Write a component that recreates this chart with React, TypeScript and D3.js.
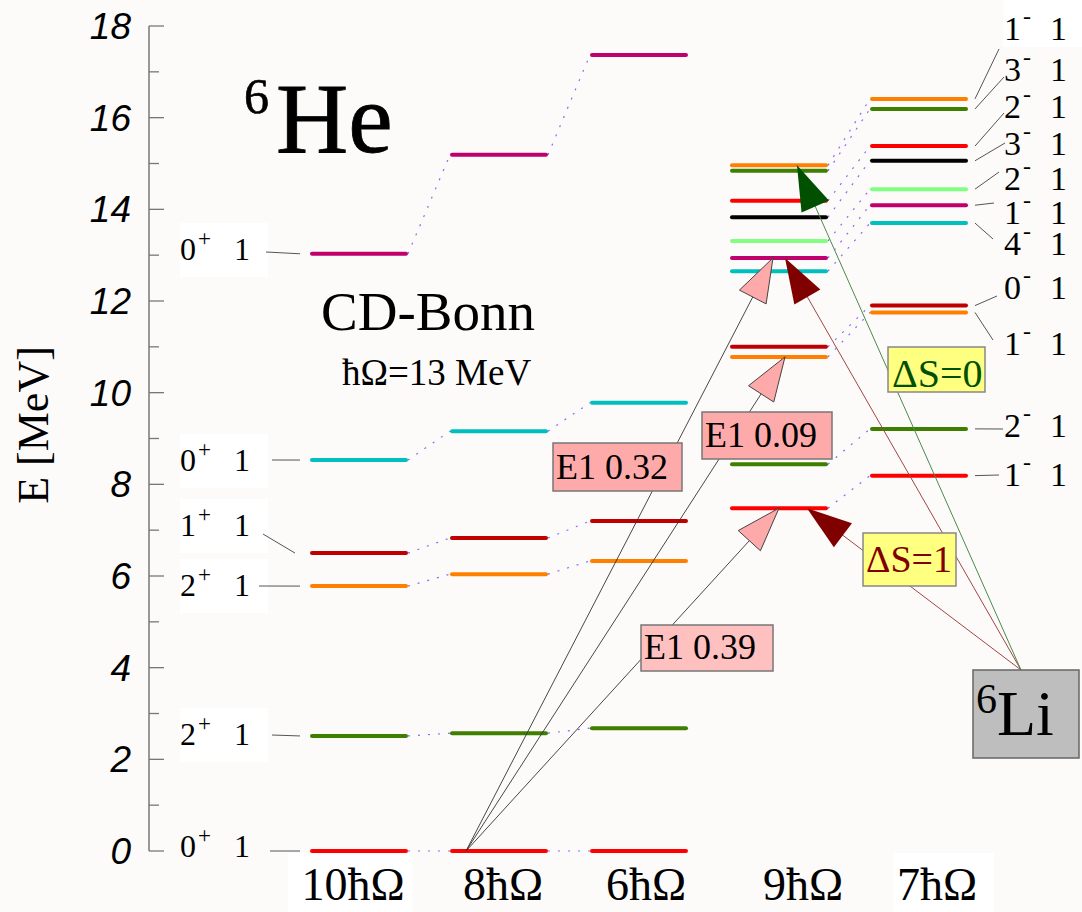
import React from 'react';
import * as d3 from 'd3';

// column order along the x axis
const columns = ['10ħΩ', '8ħΩ', '6ħΩ', '9ħΩ', '7ħΩ'];

// positive parity states (10, 8, 6 hbar-omega), lowest first
const posJ = [0, 2, 2, 1, 0, 0];
const posColours = ['#ff0000', '#3f7f00', '#ff8000', '#c00000', '#00bfbf', '#c0006c'];
const e10 = [0, 2.51, 5.78, 6.5, 8.53, 13.03];
const e8 = [0, 2.57, 6.04, 6.83, 9.16, 15.19];
const e6 = [0, 2.68, 6.33, 7.2, 9.78, 17.37];

// negative parity states (9, 7 hbar-omega), lowest first
const negJ = [1, 2, 1, 0, 4, 1, 2, 3, 2, 3, 1];
const negColours = ['#ff0000', '#3f7f00', '#ff8000', '#c00000', '#00bfbf', '#c0006c', '#80ff80', '#000000', '#ff0000', '#3f7f00', '#ff8000'];
const e9 = [7.48, 8.44, 10.78, 11.0, 12.65, 12.94, 13.31, 13.83, 14.19, 14.84, 14.96];
const e7 = [8.19, 9.21, 11.75, 11.9, 13.7, 14.09, 14.44, 15.06, 15.38, 16.19, 16.41];

// E1 transitions from the 8hw ground state into 9hw
const e1Target = [12.94, 10.78, 7.48];
const e1Strength = ['0.32', '0.09', '0.39'];

// spin transitions out of 6Li into 9hw
const spinTarget = [7.48, 12.94, 14.96];

const yTicks = d3.range(0, 19);

const serif = '"Liberation Serif", "DejaVu Serif", serif';
const sans = '"Liberation Sans", Arial, sans-serif';

// triangle with its tip on (x1,y1), pointing away from (x0,y0)
function headPath(x0: number, y0: number, x1: number, y1: number, len = 45, hw = 15) {
  const dx = x1 - x0, dy = y1 - y0;
  const d = Math.sqrt(dx * dx + dy * dy);
  const ux = dx / d, uy = dy / d;
  const bx = x1 - ux * len, by = y1 - uy * len;
  const p = d3.path();
  p.moveTo(x1, y1);
  p.lineTo(bx - uy * hw, by + ux * hw);
  p.lineTo(bx + uy * hw, by - ux * hw);
  p.closePath();
  return p.toString();
}

export default function App() {
  const W = 1082, H = 912;
  const y = d3.scaleLinear().domain([0, 18]).range([851, 26]);
  const x = d3.scaleBand().domain(columns).range([310, 968]).paddingInner(0.3);
  const bw = x.bandwidth();
  const colL = (c: string) => x(c) as number;

  const posCols = [e10, e8, e6];
  const negCols = [e9, e7];

  // label layout (pixels)
  const leftLabelY = [846, 734, 585, 525, 460, 249];
  const leftLeaderX = [270, 272, 259, 263, 272, 266];
  const leftLeaderY = [851, 735, 586, 534, 460, 252];
  const rightLabelY = [474, 425, 343, 287, 243, 212, 178, 143, 106, 69, 28];
  const rightLeaderEnd: [number, number][] = [[999, 475], [1003, 429], [993, 340], [997, 296], [993, 239], [994, 203], [999, 172], [1005, 143], [1004, 113], [1004, 77], [999, 49]];
  const colLabelDx = [-6, 4, 7, 24, 18];

  const e1Src: [number, number] = [colL('8ħΩ') + 16, y(0)];
  const e1TipDx = [43, 55, 49];
  const e1Boxes = [[553, 443, 129, 48], [702, 412, 130, 47], [641, 625, 132, 46]];
  const e1Fill = ['#ffaaaa', '#ffaaaa', '#ffc0c0'];

  const liSrc: [number, number] = [1021, 670];
  const spinTipDx = [77, 55, 67];
  const spinFill = ['#800000', '#800000', '#005000'];
  const spinLine = ['#a04545', '#a04545', '#4a8a4a'];

  const dotted = '#8a6af0';

  return (
    <svg width={W} height={H} style={{ position: 'absolute', left: 0, top: 0 }}>
      <rect width={W} height={H} fill="#fcfbfa" />

      {/* white boxes behind labels */}
      {leftLabelY.slice(1).map((ly, i) => (
        <rect key={'lb' + i} x={180} y={ly - 26} width={88} height={54} fill="#ffffff" />
      ))}
      <rect x={1003} y={0} width={79} height={47} fill="#ffffff" />
      <rect x={288} y={853} width={125} height={59} fill="#ffffff" />
      <rect x={893} y={853} width={101} height={59} fill="#ffffff" />

      {/* energy axis */}
      <line x1={149} x2={149} y1={y(0)} y2={y(18)} stroke="#777" strokeWidth={1.5} />
      {yTicks.map((t) => (
        <g key={'t' + t}>
          <line x1={149} x2={t % 2 === 0 ? 164 : 159} y1={y(t)} y2={y(t)} stroke="#777" strokeWidth={1.3} />
          {t % 2 === 0 && (
            <text x={131} y={y(t) + 13} textAnchor="end" fontFamily={sans} fontStyle="italic" fontSize={37} fill="#000">
              {t}
            </text>
          )}
        </g>
      ))}
      <text transform={`translate(48,425) rotate(-90)`} textAnchor="middle" fontFamily={serif} fontSize={44} fill="#000">
        E [MeV]
      </text>

      {/* dotted connectors between columns */}
      {posCols.slice(0, 2).map((col, ci) =>
        col.map((e, i) => (
          <line key={`pd${ci}-${i}`} x1={colL(columns[ci]) + bw} y1={y(e)} x2={colL(columns[ci + 1])} y2={y(posCols[ci + 1][i])}
            stroke={dotted} strokeWidth={1.2} strokeDasharray="2,8" />
        ))
      )}
      {e9.map((e, i) => (
        <line key={'nd' + i} x1={colL('9ħΩ') + bw} y1={y(e)} x2={colL('7ħΩ')} y2={y(e7[i])}
          stroke={dotted} strokeWidth={1.2} strokeDasharray="2,8" />
      ))}

      {/* levels */}
      {posCols.map((col, ci) =>
        col.map((e, i) => (
          <line key={`pl${ci}-${i}`} x1={colL(columns[ci]) + 2} x2={colL(columns[ci]) + bw - 2} y1={y(e)} y2={y(e)}
            stroke={posColours[i]} strokeWidth={4} strokeLinecap="round" />
        ))
      )}
      {negCols.map((col, ci) =>
        col.map((e, i) => (
          <line key={`nl${ci}-${i}`} x1={colL(columns[ci + 3]) + 2} x2={colL(columns[ci + 3]) + bw - 2} y1={y(e)} y2={y(e)}
            stroke={negColours[i]} strokeWidth={4} strokeLinecap="round" />
        ))
      )}

      {/* left spin labels (10hw) */}
      {e10.map((e, i) => (
        <g key={'ll' + i} fontFamily={serif} fill="#000">
          <line x1={leftLeaderX[i]} y1={leftLeaderY[i]} x2={i === 3 ? 295 : 300} y2={y(e)} stroke="#555" strokeWidth={1} />
          <text x={180} y={leftLabelY[i] + 11} fontSize={32}>{posJ[i]}</text>
          <text x={198} y={leftLabelY[i] - 3} fontSize={23}>+</text>
          <text x={234} y={leftLabelY[i] + 11} fontSize={32}>1</text>
        </g>
      ))}

      {/* right spin labels (7hw) */}
      {e7.map((e, i) => (
        <g key={'rl' + i} fontFamily={serif} fill="#000">
          <line x1={975} y1={y(e)} x2={rightLeaderEnd[i][0]} y2={rightLeaderEnd[i][1]} stroke="#555" strokeWidth={1} />
          <text x={1004} y={rightLabelY[i] + 12} fontSize={34}>{negJ[i]}</text>
          <text x={1023} y={rightLabelY[i] - 4} fontSize={24}>-</text>
          <text x={1050} y={rightLabelY[i] + 12} fontSize={34}>1</text>
        </g>
      ))}

      {/* transition lines */}
      {e1Target.map((e, i) => (
        <line key={'el' + i} x1={e1Src[0]} y1={e1Src[1]} x2={colL('9ħΩ') + e1TipDx[i]} y2={y(e)} stroke="#333" strokeWidth={0.9} />
      ))}
      {spinTarget.map((e, i) => (
        <line key={'sl' + i} x1={liSrc[0]} y1={liSrc[1]} x2={colL('9ħΩ') + spinTipDx[i]} y2={y(e)} stroke={spinLine[i]} strokeWidth={1} />
      ))}

      {/* E1 labels */}
      {e1Boxes.map(([bx, by, w, h], i) => (
        <g key={'eb' + i}>
          <rect x={bx} y={by} width={w} height={h} fill={e1Fill[i]} stroke="#777" strokeWidth={1.5} />
          <text x={bx + 3} y={by + h - 12} fontFamily={serif} fontSize={36} fill="#000">E1 {e1Strength[i]}</text>
        </g>
      ))}

      {/* spin change labels */}
      <rect x={888} y={347} width={97} height={45} fill="#ffff80" stroke="#888" strokeWidth={1.5} />
      <text x={892} y={387} fontFamily={serif} fontSize={40} fill="#005000">ΔS=0</text>
      <rect x={863} y={533} width={93} height={53} fill="#ffff80" stroke="#888" strokeWidth={1.5} />
      <text x={866} y={572} fontFamily={serif} fontSize={38} fill="#800000">ΔS=1</text>

      {/* arrow heads */}
      {e1Target.map((e, i) => (
        <path key={'eh' + i} d={headPath(e1Src[0], e1Src[1], colL('9ħΩ') + e1TipDx[i], y(e), 44, 15)}
          fill="#ffaaaa" stroke="#444" strokeWidth={1} />
      ))}
      {spinTarget.map((e, i) => (
        <path key={'sh' + i} d={headPath(liSrc[0], liSrc[1], colL('9ħΩ') + spinTipDx[i], y(e), 45, 15)}
          fill={spinFill[i]} />
      ))}

      {/* 6Li box */}
      <rect x={973} y={670} width={106} height={88} fill="#bebebe" stroke="#666" strokeWidth={1.5} />
      <text x={976} y={713} fontFamily={serif} fontSize={42} fill="#000">6</text>
      <text x={997} y={735} fontFamily={serif} fontSize={64} fill="#000">Li</text>

      {/* titles */}
      <text x={244} y={113} fontFamily={serif} fontSize={50} fill="#000" stroke="#000" strokeWidth={0.6}>6</text>
      <text x={276} y={152} fontFamily={serif} fontSize={100} fill="#000" stroke="#000" strokeWidth={0.8}>He</text>
      <text x={321} y={330} fontFamily={serif} fontSize={55} fill="#000">CD-Bonn</text>
      <text x={342} y={385} fontFamily={serif} fontSize={37} fill="#000">ħΩ=13 MeV</text>

      {/* column labels */}
      {columns.map((c, i) => (
        <text key={'c' + c} x={colL(c) + bw / 2 + colLabelDx[i]} y={900}
          textAnchor="middle" fontFamily={serif} fontSize={46} fill="#000">
          {c}
        </text>
      ))}
    </svg>
  );
}
